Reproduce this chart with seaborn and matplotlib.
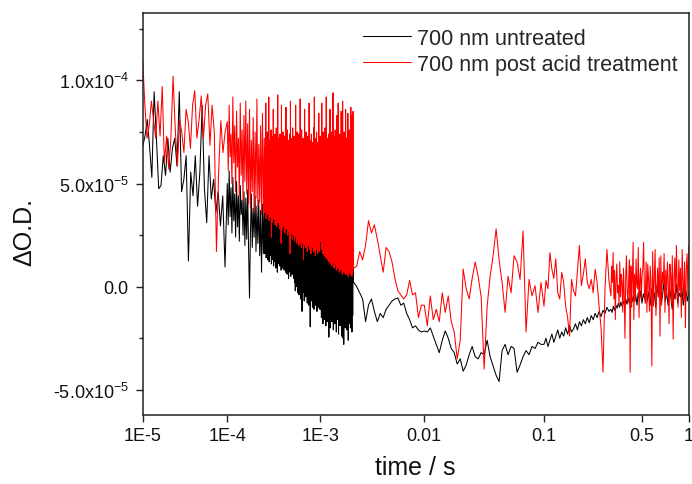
import numpy as np
import pandas as pd
import matplotlib
matplotlib.use("Agg")
import matplotlib.pyplot as plt
import seaborn as sns
from matplotlib.ticker import FixedLocator, NullLocator

# ---------------- data ----------------
# time segments (s); each segment is sampled on its own logarithmic time grid
seg_bounds = [1e-5, 1e-4, 2.5e-4, 1e-3, 2.1e-3, 1e-2, 1e-1, 0.3, 1.0]

# Delta O.D. values in units of 1e-5, one list per time segment
black_seg1 = [6.8, 7.3, 8.1, 6.8, 5.3, 9.45, 7.2, 4.75, 4.9, 6.35, 5.4, 7.2, 5.55, 6.7, 7.2, 5.85,
              9.45, 4.6, 5.2, 6.35, 1.25, 5.55, 4.4, 6.35, 3.9, 5.55, 8.8, 4.75, 3.1, 6.35, 4.25,
              5.2, 3.6, 4.6, 2.95, 4.4, 0.95]
black_seg2 = [5.0, 3.0, 5.6, 3.4, 4.8, 2.6, 5.3, 3.2, 4.5, 2.4,
              5.1, 2.9, 4.4, 2.2, 4.9, 3.5, 4.2, 2.5, 4.6, 2.0,
              4.3, 2.3, 4.7, 1.8, -0.55, 2.6, 4.5, 1.9, 3.8, 2.4,
              4.4, 1.7, 3.9, 2.1, 4.2, 1.5, 3.7, 0.7, 4.0, 1.6]
black_seg3 = [4.4, 1.6, 3.9, 2.0, 4.2, 1.4, 3.7, 1.8, 4.1, 1.3,
              3.8, 1.7, 4.3, 1.2, 3.6, 1.9, 4.0, 1.5, 3.7, 1.1,
              4.2, 1.6, 3.5, 1.3, 3.9, 1.0, 4.1, 1.5, 3.6, 1.2,
              3.8, 0.9, 4.0, 1.4, 3.5, 0.7, 3.9, 1.1, 3.6, 1.3,
              4.1, 1.0, 3.4, 1.2, 3.8, 0.8, 3.5, 1.1, 3.9, 0.9,
              3.3, 1.2, 3.7, 0.8, 3.5, 1.0, 3.9, 0.7, 3.4, 1.1,
              3.6, 0.6, 3.8, 1.0, 3.2, 0.4, 3.7, 0.9, 3.4, 0.7,
              3.5, 0.5, 3.1, 0.9, 3.6, 0.6, 3.3, 0.8, 3.7, 0.4,
              3.2, 0.2, 3.5, -0.2, 3.0, 0.1, 3.4, 0.0, 3.6, -0.3,
              3.1, 0.1, 3.3, -0.4, 2.9, 0.0, 3.4, -0.6, 3.2, -0.1,
              2.8, -1.2, 3.3, -0.3, 3.0, 0.0, 2.9, -0.7, 3.2, -0.2,
              2.7, -0.5, 3.1, -0.1, 2.8, -0.8, 3.0, -0.4, 2.6, -0.9,
              3.0, -0.3, 2.8, -1.95, 2.9, -0.7, 2.7, -0.4, 3.1, -1.0,
              2.6, -0.5, 2.9, -1.1, 2.8, -0.6, 2.5, -0.9, 3.0, -0.7,
              2.7, -1.2, 2.6, -0.6, 2.9, -1.0, 2.5, -0.8, 2.8, -1.1]
black_seg4 = [2.5, -1.1, 2.2, -1.5, 2.6, -0.9, 2.0, -1.8, 2.4, -1.3,
              1.9, -1.6, 2.3, -1.0, 2.1, -1.9, 1.8, -1.4, 2.4, -1.7,
              2.0, -1.2, 1.7, -2.45, 2.2, -1.5, 1.9, -2.0, 2.3, -1.3,
              1.6, -1.7, 2.1, -1.1, 1.8, -2.1, 2.2, -1.5, 1.7, -1.8,
              2.0, -1.4, 1.5, -2.2, 1.9, -1.6, 2.1, -1.2, 1.6, -2.3,
              1.8, -1.5, 2.0, -1.9, 1.4, -1.3, 1.9, -2.4, 1.7, -1.7,
              1.5, -2.5, 1.8, -2.8, 1.6, -1.6, 2.0, -2.0, 1.3, -1.4,
              1.7, -2.1, 1.4, -1.5, 1.9, -2.6, 1.5, -1.8, 1.6, -1.3,
              1.2, -2.0, 1.8, -1.6, 1.4, -2.2, 1.6, -1.4, 1.1, 0.2]
black_seg5 = [0.2, 0.0, -0.3, -0.6, -1.7, -0.9, -0.6, -1.2, -1.7, -1.3, -1.5, -1.1, -0.9, -0.7,
              -0.6, -0.55, -0.9, -0.8, -1.3, -1.6, -2.0, -1.9, -2.1, -2.2]
black_seg6 = [-2.15, -2.2, -2.0, -2.4, -2.8, -3.2, -2.6, -2.15, -2.5, -3.0, -3.2, -3.75, -3.5, -4.1,
              -3.8, -3.3, -2.9, -3.4, -3.5, -3.2, -3.3, -2.6, -3.4, -3.85, -4.3, -4.6, -3.1, -2.8,
              -3.3, -2.9, -3.0, -4.15, -3.8, -3.4, -3.1, -3.3, -2.9, -3.0, -2.7, -2.8]
black_seg7 = [-2.8, -2.5, -2.9, -2.6, -2.3, -2.7, -2.4, -2.1, -2.5, -2.2, -2.4, -2.0, -2.3, -1.9,
              -2.2, -2.05, -1.8, -2.1, -1.7, -1.9, -1.6, -1.8, -1.5, -1.75, -1.4, -1.6, -1.3, -1.5,
              -1.2, -1.45, -1.15, -1.3, -1.0, -1.2]
black_seg8 = [-1.1, -1.25, -0.95, -1.15, -0.9, -1.05, -0.8, -1.0, -0.75, -0.95, -0.7, -0.9, -0.6,
              -0.85, -0.55, -0.8, -0.5, -0.75, -0.45, -0.7, -0.4, -0.9, -0.3, -0.65, -0.2, -0.8,
              -0.35, -0.6, 0.0, -0.7, -0.25, -0.9, -0.1, -0.6, -0.3, -1.0, 0.1, -0.5, -0.2, -0.8,
              -0.4, 0.2, -0.7, -0.3, -0.9, 0.0, -0.5, -1.1, -0.2, -0.6, 0.1, -0.8, -0.3, -0.5, 0.0,
              -0.9, -0.4, -0.2, -0.7, -0.3]

red_seg1 = [11.0, 8.8, 7.2, 7.8, 9.0, 8.1, 7.2, 9.0, 7.3, 9.7, 6.0, 7.3, 5.7, 7.2, 10.2, 7.65, 5.85,
            8.1, 7.5, 6.5, 8.6, 8.0, 6.7, 8.8, 9.5, 7.2, 8.1, 9.25, 7.2, 8.8, 9.35, 6.85, 8.8, 7.5,
            1.7, 5.55, 8.05, 6.5, 7.5]
red_seg2 = [8.0, 5.6, 8.8, 6.3, 7.4, 5.0, 9.2, 6.0, 7.8, 4.6,
            8.5, 5.8, 7.2, 4.4, 8.9, 5.4, 7.6, 4.2, 8.3, 5.1,
            9.0, 4.5, 7.9, 4.0, 8.6, 3.8, 7.1, 4.6, 8.2, 3.6,
            7.5, 4.3, 9.1, 3.9, 6.9, 4.1, 7.8, 3.5, 8.4, 3.7]
red_seg3 = [7.2, 3.6, 6.8, 4.1, 8.9, 3.3, 7.0, 3.9, 7.5, 3.5,
            6.7, 3.8, 9.2, 3.2, 7.1, 4.0, 6.9, 3.4, 7.6, 2.4,
            7.3, 3.1, 6.6, 3.6, 8.6, 3.3, 7.0, 3.9, 7.4, 3.0,
            6.8, 3.5, 7.7, 2.9, 6.9, 3.4, 9.3, 3.1, 7.2, 3.6,
            6.6, 2.8, 7.4, 3.3, 7.0, 2.1, 8.8, 2.7, 6.9, 3.4,
            7.5, 2.9, 6.7, 3.2, 7.3, 2.6, 7.0, 3.1, 8.7, 2.8,
            6.8, 3.0, 7.6, 2.5, 7.1, 2.9, 6.6, 2.7, 7.4, 1.6,
            9.0, 3.0, 6.9, 2.6, 7.2, 2.3, 7.7, 2.8, 6.8, 2.5,
            7.3, 2.2, 6.7, 2.7, 8.8, 2.4, 7.0, 2.1, 7.5, 2.6,
            6.9, 2.3, 7.4, 2.0, 6.6, 2.5, 9.1, 2.2, 7.1, 1.9,
            7.6, 2.4, 6.8, 2.1, 7.2, 1.3, 7.0, 2.3, 8.6, 2.0,
            6.7, 1.9, 7.5, 2.4, 6.9, 1.7, 7.3, 2.2, 6.8, 2.0,
            8.9, 1.8, 7.1, 2.3, 6.6, 1.6, 7.4, 2.1, 7.0, 1.9,
            6.8, 2.2, 7.7, 1.7, 9.2, 2.0, 6.9, 1.5, 7.2, 2.1,
            7.5, 1.8, 6.7, 1.6, 7.0, 2.0, 8.4, 1.7, 6.9, 2.2]
red_seg4 = [7.3, 2.2, 6.9, 1.8, 8.9, 2.4, 7.1, 1.6, 7.5, 2.0,
            6.8, 1.5, 7.7, 2.1, 7.0, 1.4, 9.2, 1.9, 7.2, 1.3,
            6.9, 1.8, 7.4, 1.2, 7.1, 1.7, 8.6, 1.1, 6.8, 1.6,
            7.5, 1.0, 7.0, 1.5, 9.4, 1.2, 7.3, 0.9, 6.9, 1.4,
            7.6, 1.1, 7.2, 0.8, 8.3, 1.3, 6.9, 0.9, 8.9, 1.2,
            7.1, 0.7, 7.4, 1.1, 7.0, 0.8, 8.5, 1.0, 7.3, 0.6,
            9.0, 1.0, 6.9, 0.7, 7.5, 0.9, 7.1, 0.6, 8.6, 0.9,
            7.2, 0.6, 7.0, 0.8, 8.4, 0.5, 7.3, 0.9, 7.6, 0.7,
            6.9, 0.6, 8.7, 0.8, 7.2, 0.5, 8.3, 0.7, 8.5, 0.9]
red_seg5 = [0.9, 1.0, 1.7, 1.3, 2.0, 3.2, 2.6, 3.0, 2.3, 1.5, 0.7, 1.9, 1.7, 1.2, 0.4, -0.2,
            -0.4, -0.6, -0.4, 0.3, -0.4, -0.3, -1.5, -0.9]
red_seg6 = [-0.9, -1.9, -0.45, -1.6, -1.1, -1.7, -0.3, -1.25, -0.45, -1.7, -2.2, -3.5, -2.6, 0.85,
            -0.1, -0.6, 0.4, 1.2, 0.5, -0.5, -4.0, -0.95, 0.5, 1.5, 2.8, 1.3, 0.2, -1.25, 0.5,
            -0.3, 1.5, 1.2, 0.35, 2.7, -2.2, 0.35, -0.45, 0.05, -1.25, 0.2]
red_seg7 = [-0.95, 0.3, -0.1, 1.65, 0.85, 0.4, 1.35, -0.3, -0.6, 0.7, 0.2, -0.95, -1.5, -2.4,
            0.35, -0.2, -0.45, 0.8, 2.0, 0.05, 0.6, 1.35, 0.2, -0.1, 0.35, -0.3, 0.85, 0.2,
            -0.95, -2.0, -4.15, -0.1, 1.8, 0.3]
red_seg8 = [-0.45, 1.0, 0.2, 1.65, -0.6, 0.8, -1.6, 0.3, 1.1, -0.3,
            0.05, -0.9, 1.2, -0.5, 0.6, 0.2, -1.25, 0.9, -0.4, -2.5,
            0.5, 1.5, -0.2, -0.8, 0.35, 1.3, -4.15, 1.0, -1.0, 0.4,
            2.15, -1.6, 0.6, -0.7, 1.35, 0.1, -0.1, 1.9, -1.5, 0.3,
            0.9, -0.6, 0.5, 0.9, 2.15, -0.3, -0.8, 1.2, -1.25, 1.1,
            0.4, -1.2, 1.0, 0.2, -3.85, 1.7, -0.95, 0.5, 1.8, -1.4,
            -0.3, 0.9, -0.5, 1.4, -2.4, 1.5, -0.9, 0.7, 0.2, 1.6,
            -1.25, 0.8, -0.5, 1.2, 0.3, -1.8, 1.1, 0.6, -0.8, 1.5,
            -2.55, 0.4, 1.4, -0.6, 2.0, 0.1, -1.0, 1.3, -0.2, 0.9,
            -1.5, 1.8, 0.3, -0.7, 1.2, -2.0, 0.8, 1.6, -0.4, 2.0]

label_black = "700 nm untreated"
label_red = "700 nm post acid treatment"

x_ticks = [1e-5, 1e-4, 1e-3, 1e-2, 1e-1, 0.5, 1.0]
x_ticklabels = ["1E-5", "1E-4", "1E-3", "0.01", "0.1", "0.5", "1"]
y_ticks = [-5e-5, 0.0, 5e-5, 1e-4]
y_ticklabels = [r"-5.0x10$^{-5}$", "0.0", r"5.0x10$^{-5}$", r"1.0x10$^{-4}$"]
y_minor = [-2.5e-5, 2.5e-5, 7.5e-5, 1.25e-4]


def build(segs, label):
    ts, vs = [], []
    n = len(segs)
    for i, vals in enumerate(segs):
        t = np.geomspace(seg_bounds[i], seg_bounds[i + 1], len(vals), endpoint=(i == n - 1))
        ts.append(t)
        vs.append(np.asarray(vals, dtype=float) * 1e-5)
    return pd.DataFrame({"t": np.concatenate(ts), "v": np.concatenate(vs), "series": label})


df = pd.concat([
    build([black_seg1, black_seg2, black_seg3, black_seg4, black_seg5, black_seg6, black_seg7,
           black_seg8], label_black),
    build([red_seg1, red_seg2, red_seg3, red_seg4, red_seg5, red_seg6, red_seg7, red_seg8],
          label_red),
], ignore_index=True)

# ---------------- style ----------------
sns.set_style("ticks")
plt.rcParams["font.family"] = ["Liberation Sans", "DejaVu Sans"]
plt.rcParams["mathtext.default"] = "regular"

W, H = 692, 485
fig = plt.figure(figsize=(W / 100, H / 100), dpi=100)
ax_l, ax_r, ax_t, ax_b = 142.7, 688.7, 14.0, 415.7
ax = fig.add_axes([ax_l / W, 1 - ax_b / H, (ax_r - ax_l) / W, (ax_b - ax_t) / H])

sns.lineplot(data=df, x="t", y="v", hue="series", hue_order=[label_black, label_red],
             palette={label_black: "#000000", label_red: "#ff0000"},
             estimator=None, sort=False, linewidth=0.75, ax=ax)

# axis scale: logarithmic decades with the (slightly uneven) decade widths of the original
L_nodes = np.array([-40.0, -5, -4, -3, -2, -1, np.log10(0.5), 0, 40.0])
P_core = np.array([142.7, 227.3, 320.3, 424.3, 544.0, 642.0, 688.7])
P_nodes = np.concatenate([[P_core[0] - 35 * (P_core[1] - P_core[0])], P_core,
                          [P_core[-1] + 40 * (P_core[-1] - P_core[-2]) / (0 - np.log10(0.5))]])


def fwd(t):
    t = np.asarray(t, dtype=float)
    L = np.log10(np.clip(t, 1e-300, None))
    return np.interp(L, L_nodes, P_nodes)


def inv(p):
    p = np.asarray(p, dtype=float)
    return 10 ** np.interp(p, P_nodes, L_nodes)


ax.set_xscale("function", functions=(fwd, inv))
ax.set_xlim(1e-5, 1.0)
ax.set_ylim(-6.21e-5, 1.327e-4)

ax.xaxis.set_major_locator(FixedLocator(x_ticks))
ax.set_xticklabels(x_ticklabels)
ax.xaxis.set_minor_locator(NullLocator())
ax.set_yticks(y_ticks)
ax.set_yticklabels(y_ticklabels)
ax.yaxis.set_minor_locator(FixedLocator(y_minor))

for s in ax.spines.values():
    s.set_visible(True)
    s.set_linewidth(1.1)
    s.set_color("#222222")
ax.tick_params(axis="both", which="major", direction="out", length=5, width=1.0,
               labelsize=13, pad=4, colors="#222222", labelcolor="#111111", top=False, right=False)
ax.tick_params(axis="both", which="minor", direction="out", length=3, width=1.0,
               colors="#222222", top=False, right=False)
ax.tick_params(axis="y", which="major", pad=5)

ax.set_xlabel("time / s", fontsize=18, color="#111111")
ax.set_ylabel("\u0394O.D.", fontsize=18, color="#111111")
ax.xaxis.set_label_coords(0.5, -0.10)
ax.yaxis.set_label_coords(-0.195, 0.457)

handles, labels = ax.get_legend_handles_labels()
ax.legend(handles, labels, loc="upper left", bbox_to_anchor=(0.4035, 0.963), frameon=False,
          fontsize=15.5, handlelength=2.25, handletextpad=0.25, labelspacing=0.23,
          borderpad=0, borderaxespad=0)

fig.savefig("out.png", dpi=100)
